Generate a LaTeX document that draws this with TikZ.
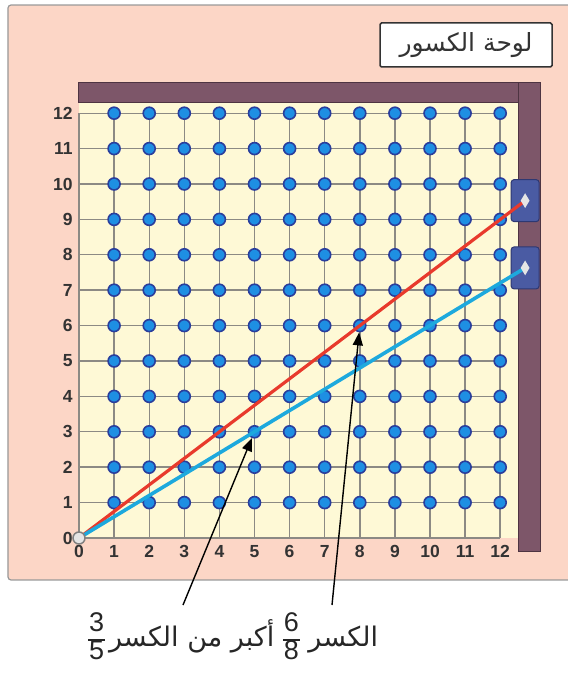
\documentclass[tikz,border=0pt]{standalone}
\usepackage{fontspec}
\setmainfont{Liberation Sans}
\newfontfamily\arabicfont[Script=Arabic]{DejaVu Sans}
\TeXXeTstate=1
\usepackage{xcolor}
\usetikzlibrary{positioning, arrows.meta, shapes.geometric}
\definecolor{peach}{HTML}{FCD6C6}
\definecolor{cream}{HTML}{FEF9D6}
\definecolor{gridgray}{HTML}{8C8A84}
\definecolor{barmauve}{HTML}{7D5669}
\definecolor{bardark}{HTML}{4E3442}
\definecolor{dotfill}{HTML}{1E8FE3}
\definecolor{dotedge}{HTML}{2A3E9C}
\definecolor{labelgray}{HTML}{333333}
\definecolor{sliderblue}{HTML}{4A5BA3}
\definecolor{sliderdark}{HTML}{2E3872}
\definecolor{fracred}{HTML}{E83A2C}
\definecolor{fracblue}{HTML}{1DA9DD}

\newcommand{\frc}[2]{\ensuremath{\vcenter{\hbox{\rmfamily\setlength{\arrayrulewidth}{1.4pt}%
  \setlength{\tabcolsep}{1pt}\renewcommand{\arraystretch}{0.95}%
  \begin{tabular}{c}#1\\\hline#2\end{tabular}}}}}

\tikzset{
  dot/.style={circle, draw=dotedge, fill=dotfill, line width=1.6pt,
              minimum size=12pt, inner sep=0pt},
  origindot/.style={circle, draw=gray, fill=gray!20, line width=1.5pt,
              minimum size=12pt, inner sep=0pt},
  axislabel/.style={font=\fontsize{17.5}{17.5}\selectfont\bfseries, text=labelgray},
  slider/.style={draw=sliderdark, fill=sliderblue, rounded corners=3pt,
              minimum width=28pt, minimum height=42pt, line width=1pt},
  knob/.style={diamond, fill=white!80!gray, inner sep=0pt,
              minimum width=9pt, minimum height=15pt},
  pointer/.style={-{Triangle[length=13pt,width=10pt]}, line width=1.4pt},
}

\begin{document}
\begin{tikzpicture}[x=35.1pt, y=35.4pt]
  \useasboundingbox (-2.2507,-3.8983) rectangle (13.9031,15.1977);

  % board
  \draw[fill=peach, draw=gray!80, line width=1.2pt, rounded corners=3pt]
    (-2.023,-1.186) rectangle (14.2,15.056);
  \node[draw=labelgray, fill=white, line width=1.5pt, rounded corners=1.5pt,
        minimum width=172pt, minimum height=44pt,
        font=\arabicfont\fontsize{25}{25}\selectfont, text=labelgray] (title)
    at (11.026,13.927) {\beginR لوحة الكسور\endR};

  % frame
  \fill[cream] (0,0) rectangle (12.507,12.288);
  \draw[fill=barmauve, draw=bardark, line width=1pt] (-0.028,12.288) rectangle (13.134,12.853);
  \draw[fill=barmauve, draw=bardark, line width=1pt] (12.507,-0.395) rectangle (13.134,12.853);

  % grid
  \draw[gridgray, line width=1.4pt, step=1] (0,0) grid (12,12);

  % axis labels
  \foreach \k in {0,...,12}{
    \node[axislabel, anchor=east] (ylab-\k) at (-0.08,\k) {\k};
    \node[axislabel] (xlab-\k) at (\k,-0.38) {\k};
  }

  % points
  \foreach \i in {1,...,12}{
    \foreach \j in {1,...,12}{
      \node[dot] (p-\i-\j) at (\i,\j) {};
    }
  }

  % sliders and fraction lines
  \node[slider] (sliderRed) at (12.71,9.53) {};
  \node[slider] (sliderBlue) at (12.71,7.63) {};
  \coordinate (origin) at (0,0);
  \draw[fracred, line width=3.2pt] (origin) -- (sliderRed.center);
  \draw[fracblue, line width=3.6pt] (origin) -- (sliderBlue.center);
  \node[knob] (knobRed) at (sliderRed.center) {};
  \node[knob] (knobBlue) at (sliderBlue.center) {};
  \node[origindot] (p-0-0) at (origin) {};

  % sentence
  \node[font=\arabicfont\fontsize{27}{27}\selectfont, text=black!85] (sentence)
    at (4.39,-2.88) {\beginR الكسر \frc{6}{8} أكبر من  الكسر\hspace{4pt}\frc{3}{5}\endR};
  \coordinate (tailA) at (2.963,-1.893);
  \coordinate (tailB) at (7.208,-1.893);
  \draw[pointer] (tailA) -- (p-5-3);
  \draw[pointer] (tailB) -- (p-8-6);
\end{tikzpicture}
\end{document}
